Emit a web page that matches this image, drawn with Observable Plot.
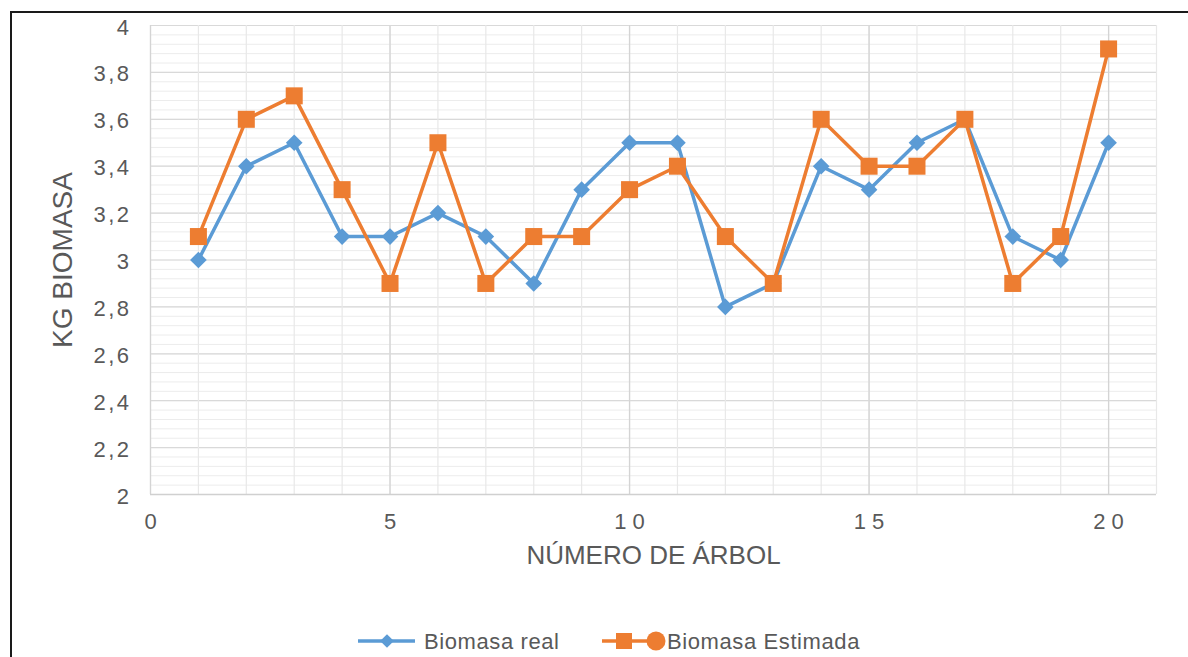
<!DOCTYPE html>
<html>
<head>
<meta charset="utf-8">
<script src="https://cdn.jsdelivr.net/npm/d3@7"></script>
<script src="https://cdn.jsdelivr.net/npm/@observablehq/plot@0.6"></script>
<style>
  html, body { margin: 0; padding: 0; background: #fff; }
  #wrap { position: relative; width: 1188px; height: 657px; overflow: hidden; font-family: "Liberation Sans", Arial, sans-serif; }
  #frame { position: absolute; left: 10px; top: 11px; width: 1200px; height: 700px; border-top: 2px solid #1a1a1a; border-left: 2px solid #1a1a1a; }
  #chart { position: absolute; left: 0; top: 0; }
  #legend { position: absolute; left: 0; top: 626px; width: 1188px; height: 30px; }
  #chart [aria-label="x-axis tick label"] text { letter-spacing: 6px; }
  #chart [aria-label="y-axis tick label"] text { letter-spacing: 2.5px; }
</style>
</head>
<body>
<div id="wrap">
  <div id="frame"></div>
  <div id="chart"></div>
  <div id="legend"></div>
</div>
<script>
const trees = [1, 2, 3, 4, 5, 6, 7, 8, 9, 10, 11, 12, 13, 14, 15, 16, 17, 18, 19, 20];
const biomasaReal = [3.0, 3.4, 3.5, 3.1, 3.1, 3.2, 3.1, 2.9, 3.3, 3.5, 3.5, 2.8, 2.9, 3.4, 3.3, 3.5, 3.6, 3.1, 3.0, 3.5];
const biomasaEstimada = [3.1, 3.6, 3.7, 3.3, 2.9, 3.5, 2.9, 3.1, 3.1, 3.3, 3.4, 3.1, 2.9, 3.6, 3.4, 3.4, 3.6, 2.9, 3.1, 3.9];
const xTicks = [0, 5, 10, 15, 20];
const yTicks = [2, 2.2, 2.4, 2.6, 2.8, 3, 3.2, 3.4, 3.6, 3.8, 4];
const seriesNames = ["Biomasa real", "Biomasa Estimada"];
const colors = ["#5B9BD5", "#ED7D31"];
const textColor = "#595959";

const rows = trees.map((t, i) => ({tree: t, real: biomasaReal[i], est: biomasaEstimada[i]}));

const xMinor = d3.range(0, 22, 1);
const yMinor = d3.range(0, 51).map(i => 2 + i * 0.04);
const comma = d => String(d).replace(".", ",");

const chart = Plot.plot({
  width: 1188,
  height: 610,
  marginLeft: 150,
  marginRight: 32,
  marginTop: 25,
  marginBottom: 116,
  style: {fontFamily: "'Liberation Sans', Arial, sans-serif", color: textColor, background: "transparent"},
  x: {domain: [0, 21]},
  y: {domain: [2, 4]},
  marks: [
    Plot.ruleY(yMinor, {stroke: "#ececec", strokeWidth: 1}),
    Plot.ruleY(yTicks, {stroke: "#d9d9d9", strokeWidth: 1.2}),
    Plot.ruleX(xMinor, {stroke: "#e8e8e8", strokeWidth: 1.2}),
    Plot.ruleX(xTicks, {stroke: "#d4d4d4", strokeWidth: 1.3}),
    Plot.ruleY([2], {stroke: "#d0d0d0", strokeWidth: 1.5}),
    Plot.axisY(yTicks, {tickSize: 0, tickPadding: 19, dy: 2, tickFormat: comma, fontSize: 22, fill: textColor, label: null}),
    Plot.axisX(xTicks, {tickSize: 0, tickPadding: 19, dx: 3, fontSize: 22, fill: textColor, label: null}),
    Plot.text(["KG BIOMASA"], {frameAnchor: "left", dx: -87, rotate: -90, textAnchor: "middle", lineAnchor: "middle", text: d => d, fontSize: 28, fill: textColor}),
    Plot.text(["NÚMERO DE ÁRBOL"], {frameAnchor: "bottom", dy: 61, textAnchor: "middle", lineAnchor: "middle", text: d => d, fontSize: 26, fill: textColor}),
    Plot.lineY(rows, {x: "tree", y: "real", stroke: colors[0], strokeWidth: 3.5}),
    Plot.dot(rows, {x: "tree", y: "real", symbol: "diamond2", r: 7.5, fill: colors[0], stroke: null}),
    Plot.lineY(rows, {x: "tree", y: "est", stroke: colors[1], strokeWidth: 3.5}),
    Plot.dot(rows, {x: "tree", y: "est", symbol: "square", r: 9.6, fill: colors[1], stroke: null})
  ]
});
document.getElementById("chart").appendChild(chart);

// legend
const leg = d3.select("#legend").append("svg").attr("width", 1188).attr("height", 30);
const cy = 15;
const legFont = "'Liberation Sans', Arial, sans-serif";
// series 1
leg.append("line").attr("x1", 358).attr("x2", 415).attr("y1", cy).attr("y2", cy).attr("stroke", colors[0]).attr("stroke-width", 3.5);
leg.append("path").attr("d", d3.symbol(d3.symbolDiamond2, 120)()).attr("transform", `translate(387,${cy})`).attr("fill", colors[0]);
leg.append("text").attr("x", 424).attr("y", cy).attr("dy", "0.35em").attr("font-size", 22).attr("fill", textColor).attr("font-family", legFont).attr("letter-spacing", "0.6px").text(seriesNames[0]);
// series 2
leg.append("line").attr("x1", 602).attr("x2", 655).attr("y1", cy).attr("y2", cy).attr("stroke", colors[1]).attr("stroke-width", 3.5);
leg.append("rect").attr("x", 616).attr("y", cy - 8).attr("width", 16).attr("height", 16).attr("fill", colors[1]);
leg.append("circle").attr("cx", 656).attr("cy", cy).attr("r", 9.5).attr("fill", colors[1]);
leg.append("text").attr("x", 667).attr("y", cy).attr("dy", "0.35em").attr("font-size", 22).attr("fill", textColor).attr("font-family", legFont).attr("letter-spacing", "0.6px").text(seriesNames[1]);
</script>
</body>
</html>
